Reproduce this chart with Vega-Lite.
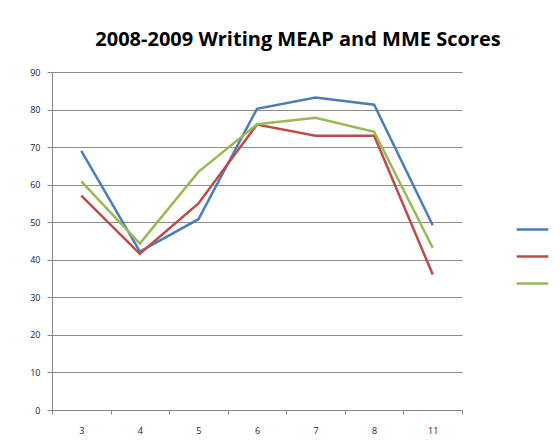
{
  "$schema": "https://vega.github.io/schema/vega-lite/v6.json",
  "width": 410,
  "height": 338,
  "autosize": {"type": "none"},
  "padding": {"left": 52, "top": 72, "right": 98, "bottom": 33},
  "background": "white",
  "title": {
    "text": "2008-2009 Writing MEAP and MME Scores",
    "font": "Open Sans",
    "fontSize": 20,
    "fontWeight": "bold",
    "color": "#000000",
    "anchor": "middle",
    "frame": "group",
    "dx": 41,
    "offset": 18
  },
  "data": {
    "values": [
      {"grade": "3", "series": "School", "score": 69},
      {"grade": "4", "series": "School", "score": 42.2},
      {"grade": "5", "series": "School", "score": 50.8},
      {"grade": "6", "series": "School", "score": 80.2},
      {"grade": "7", "series": "School", "score": 83.2},
      {"grade": "8", "series": "School", "score": 81.3},
      {"grade": "11", "series": "School", "score": 49.2},
      {"grade": "3", "series": "District", "score": 57.1},
      {"grade": "4", "series": "District", "score": 41.6},
      {"grade": "5", "series": "District", "score": 55},
      {"grade": "6", "series": "District", "score": 76},
      {"grade": "7", "series": "District", "score": 73},
      {"grade": "8", "series": "District", "score": 73},
      {"grade": "11", "series": "District", "score": 36.1},
      {"grade": "3", "series": "State", "score": 60.9},
      {"grade": "4", "series": "State", "score": 44.3},
      {"grade": "5", "series": "State", "score": 63.4},
      {"grade": "6", "series": "State", "score": 76.1},
      {"grade": "7", "series": "State", "score": 77.8},
      {"grade": "8", "series": "State", "score": 74.1},
      {"grade": "11", "series": "State", "score": 43.2}
    ]
  },
  "mark": {"type": "line", "strokeWidth": 2.5},
  "encoding": {
    "x": {
      "field": "grade",
      "type": "ordinal",
      "sort": ["3", "4", "5", "6", "7", "8", "11"],
      "scale": {"type": "band", "paddingInner": 0, "paddingOuter": 0},
      "axis": {
        "title": null,
        "labelAngle": 0,
        "tickBand": "extent",
        "tickSize": 4,
        "tickColor": "#868686",
        "domainColor": "#868686",
        "labelFont": "Open Sans",
        "labelFontSize": 9,
        "labelColor": "#222222",
        "labelPadding": 12
      }
    },
    "y": {
      "field": "score",
      "type": "quantitative",
      "scale": {"domain": [0, 90], "nice": false},
      "axis": {
        "title": null,
        "values": [0, 10, 20, 30, 40, 50, 60, 70, 80, 90],
        "tickSize": 5,
        "tickColor": "#868686",
        "domainColor": "#868686",
        "gridColor": "#8c8c8c",
        "gridWidth": 1,
        "gridOpacity": 1,
        "labelFont": "Open Sans",
        "labelFontSize": 9,
        "labelColor": "#222222",
        "labelPadding": 7
      }
    },
    "color": {
      "field": "series",
      "type": "nominal",
      "scale": {
        "domain": ["School", "District", "State"],
        "range": ["#4A7EBB", "#BE4B48", "#98B954"]
      },
      "legend": {
        "title": null,
        "orient": "none",
        "legendX": 463,
        "legendY": 140,
        "symbolType": "stroke",
        "symbolSize": 1000,
        "symbolStrokeWidth": 2.5,
        "labelExpr": "''",
        "labelFontSize": 1,
        "rowPadding": 4,
        "padding": 0
      }
    }
  },
  "config": {
    "view": {"stroke": null}
  }
}
